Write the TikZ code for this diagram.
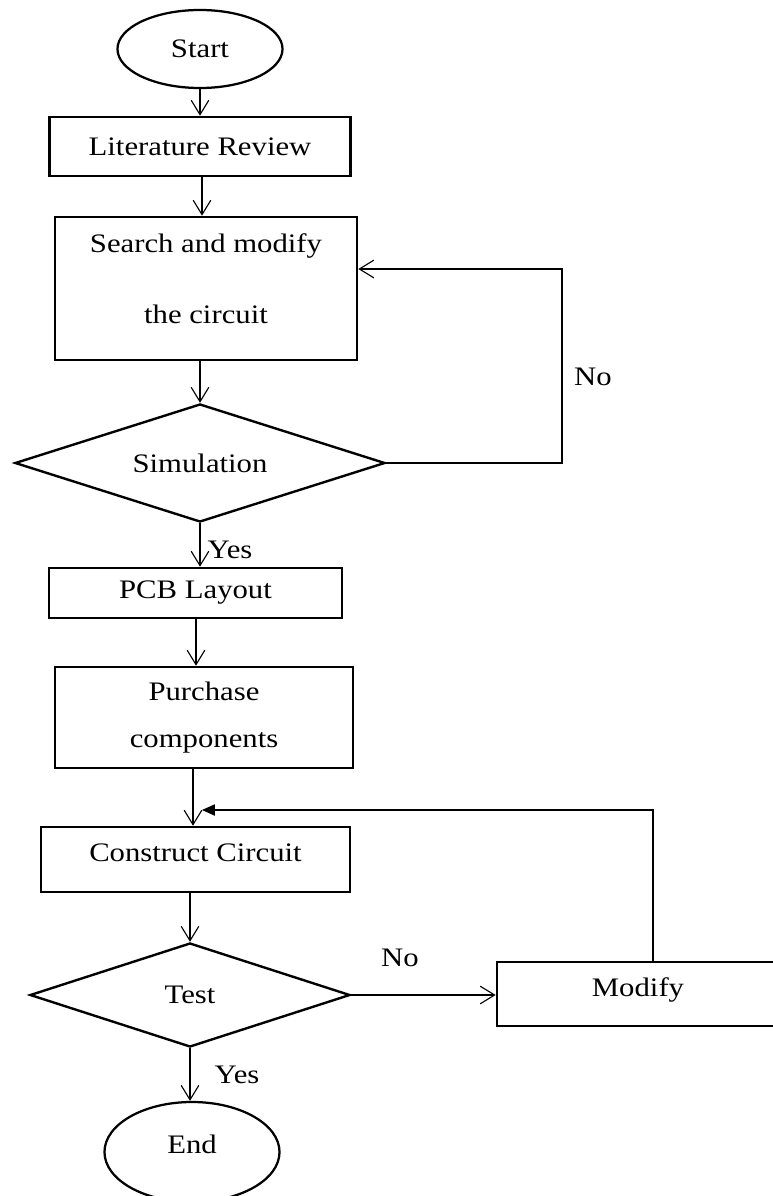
\documentclass[tikz,border=0pt]{standalone}
\usepackage{fontspec}
\setmainfont{Liberation Serif}[FakeStretch=1.15]
\usetikzlibrary{shapes.geometric,arrows.meta}

\begin{document}
\begin{tikzpicture}[x=0.025cm,y=-0.025cm,
    font=\fontsize{19}{23}\selectfont,
    procbox/.style={draw, line width=1.8pt, rectangle, align=center},
    terminal/.style={draw, line width=1.6pt, ellipse},
    decision/.style={draw, line width=1.7pt, diamond, inner sep=1pt},
    flow/.style={line width=0.8pt, -{Straight Barb[length=3.6mm,width=4.4mm]}},
    back/.style={line width=0.8pt, -{Triangle[length=3.2mm,width=2.8mm]}}]
  \useasboundingbox (0,0) rectangle (772,1196);
  % main column
  \node[terminal, minimum width=4.125cm, minimum height=1.95cm] (start) at (200,49) {Start};
  \node[procbox, minimum width=7.525cm, minimum height=1.475cm] (lit) at (200,146.5) {Literature Review};
  \node[procbox, minimum width=7.55cm, minimum height=3.575cm] (search) at (206,288.5)
    {Search and modify\\[0.95cm] the circuit\rule[-0.5cm]{0pt}{0pt}};
  \node[decision, shape aspect=3.14, minimum width=9.25cm, minimum height=2.95cm] (sim) at (200,463) {Simulation};
  \node[procbox, minimum width=7.325cm, minimum height=1.25cm] (pcb) at (195.5,593) {PCB Layout};
  \node[procbox, minimum width=7.45cm, minimum height=2.525cm] (purch) at (204,717.5)
    {Purchase\\[0.36cm] components};
  \node[procbox, minimum width=7.725cm, minimum height=1.625cm] (cons) at (195.5,859.5)
    {Construct Circuit\rule[-0.33cm]{0pt}{0pt}};
  \node[decision, shape aspect=3.08, minimum width=8cm, minimum height=2.6cm] (test) at (190,995) {Test};
  \node[procbox, minimum width=7.05cm, minimum height=1.6cm] (modify) at (638,994)
    {Modify\rule[-0.35cm]{0pt}{0pt}};
  \node[terminal, minimum width=4.375cm, minimum height=2.5cm] (end) at (192,1152) {End\rule[-0.4cm]{0pt}{0pt}};

  % labels
  \node (no1) at (593,377) {No};
  \node (yes1) at (230,550) {Yes};
  \node (no2) at (400,958) {No};
  \node (yes2) at (237,1075) {Yes};

  % columns of the straight arrows and helper points for the loops
  \coordinate (c1) at (202,0);
  \coordinate (c2) at (196,0);
  \coordinate (c3) at (193,0);
  \coordinate (r1) at (562,269);
  \coordinate (r2) at (653,810);
  \coordinate (j) at (202,810);

  % connectors
  \draw[flow] (start) -- (lit);
  \draw[flow] (c1 |- lit.south) -- (c1 |- search.north);
  \draw[flow] (sim.north |- search.south) -- (sim.north);
  \draw[flow] (sim.east) -| (r1) -- (search.east |- r1);
  \draw[flow] (sim.south) -- (sim.south |- pcb.north);
  \draw[flow] (c2 |- pcb.south) -- (c2 |- purch.north);
  \draw[flow] (c3 |- purch.south) -- (c3 |- cons.north);
  \draw[back] (r2 |- modify.north) -- (r2) -- (j);
  \draw[flow] (test.north |- cons.south) -- (test.north);
  \draw[flow] (test.east) -- (test.east -| modify.west);
  \draw[flow] (test.south) -- (test.south |- end.north);
\end{tikzpicture}
\end{document}
